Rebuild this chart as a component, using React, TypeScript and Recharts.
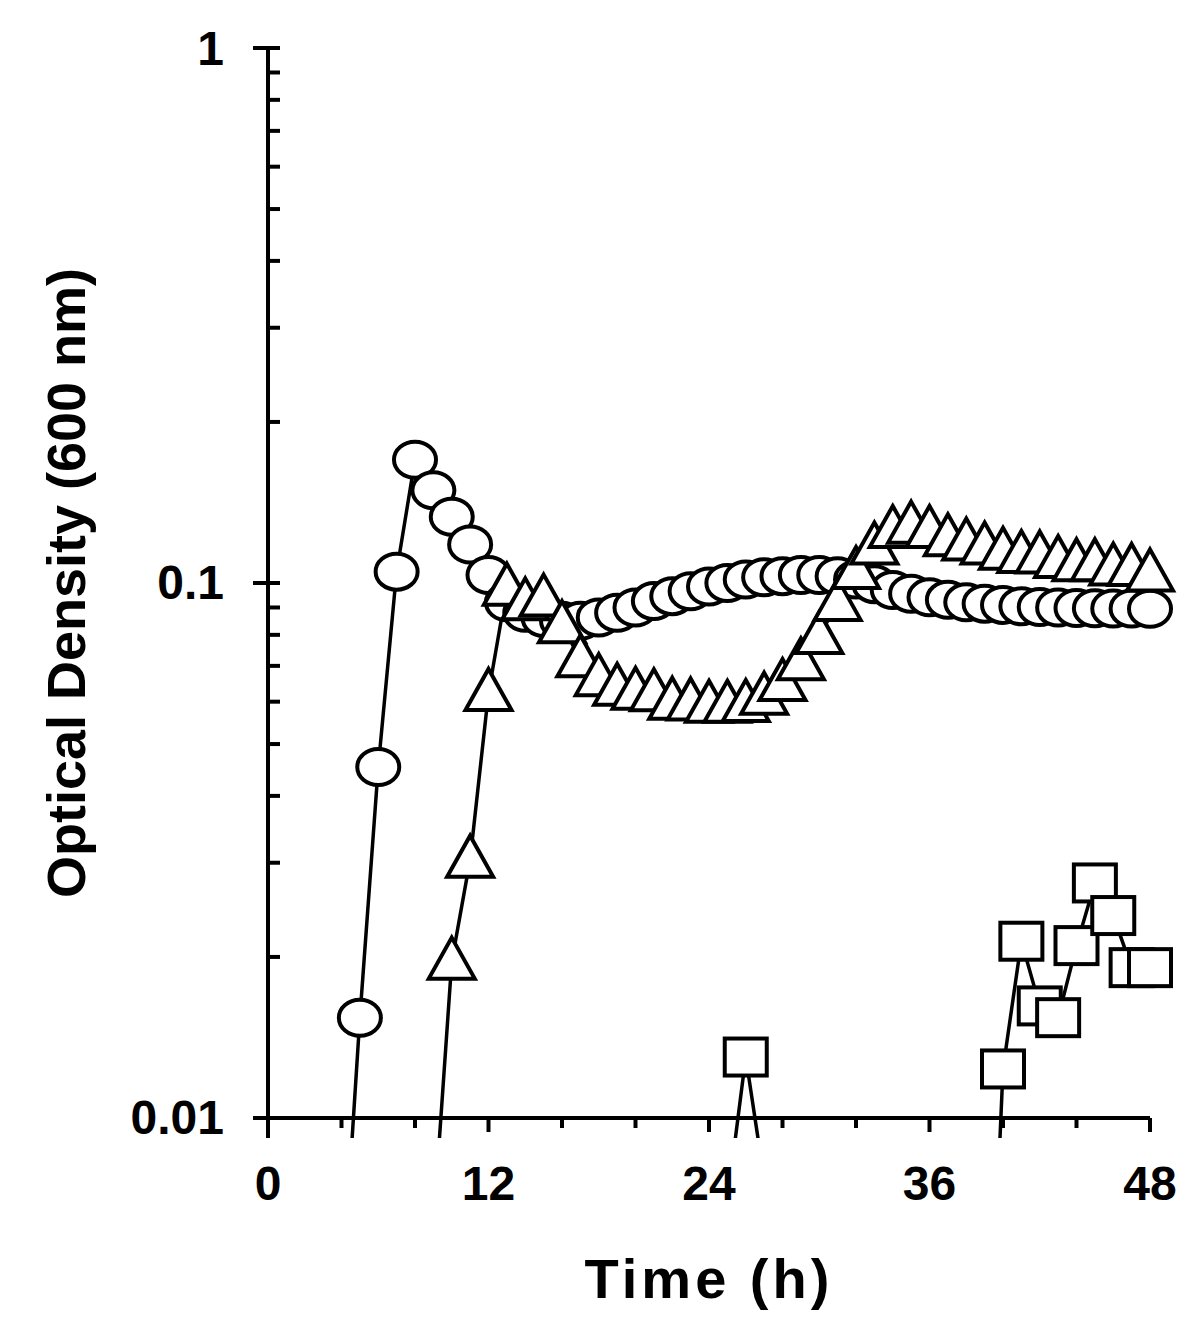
import { LineChart, Line, XAxis, YAxis, ReferenceLine } from 'recharts';

// sampling times (h)
const HOURS = [
  4, 5, 6, 7, 8, 9, 10, 11, 12, 13, 14, 15, 16, 17, 18, 19, 20, 21, 22, 23, 24, 25, 26,
  27, 28, 29, 30, 31, 32, 33, 34, 35, 36, 37, 38, 39, 40, 41, 42, 43, 44, 45, 46, 47, 48,
];

// OD600, open circles
const CIRCLES = [
  0.0045, 0.0154, 0.0453, 0.105, 0.17, 0.149, 0.133, 0.118, 0.1035, 0.092, 0.088, 0.086,
  0.085, 0.085, 0.0862, 0.088, 0.09, 0.0925, 0.0945, 0.0965, 0.0985, 0.1, 0.1015, 0.1025,
  0.103, 0.1035, 0.1035, 0.103, 0.1015, 0.0995, 0.097, 0.0955, 0.094, 0.093, 0.092, 0.0915,
  0.091, 0.0905, 0.0902, 0.09, 0.0898, 0.0897, 0.0896, 0.0896, 0.0895,
];

// OD600, open triangles
const TRIANGLES = [
  null, null, null, null, null, 0.0063, 0.0196, 0.0304, 0.0623, 0.098, 0.092, 0.0935,
  0.0834, 0.072, 0.0664, 0.0637, 0.0626, 0.0622, 0.06, 0.0598, 0.0592, 0.0592, 0.0594,
  0.0613, 0.065, 0.0711, 0.0796, 0.0918, 0.1053, 0.117, 0.1256, 0.128, 0.1256, 0.1212,
  0.119, 0.117, 0.1144, 0.1128, 0.1126, 0.1104, 0.1089, 0.1089, 0.1069, 0.1067, 0.1042,
];

// OD600, open squares (values between 28 h and 38 h are off the scale)
const SQUARES = [
  null, null, null, null, null, null, null, null, null, null, null, null, null, null, null,
  null, null, null, null, null, null, 0.007, 0.013, 0.0077, null, null, null, null, null,
  null, null, null, null, null, null, 0.002, 0.01235, 0.0214, 0.0162, 0.0154, 0.021,
  0.0275, 0.0239, 0.0191, 0.0191,
];

const X_TICKS = [0, 4, 8, 12, 16, 20, 24, 28, 32, 36, 40, 44, 48];
const X_LABELED = [0, 12, 24, 36, 48];
const Y_TICKS = [
  0.01, 0.02, 0.03, 0.04, 0.05, 0.06, 0.07, 0.08, 0.09,
  0.1, 0.2, 0.3, 0.4, 0.5, 0.6, 0.7, 0.8, 0.9, 1,
];
const Y_LABELED = [0.01, 0.1, 1];
const AXIS_FLOOR = 0.01;
const Y_DOMAIN_MIN = 0.009175; // lets the lines run a little past the x axis

const FONT = "'Liberation Sans', Arial, Helvetica, sans-serif";

const visible = (v: number | null) => (v != null && v >= AXIS_FLOOR ? v : null);

const rows = HOURS.map((t, i) => ({
  t,
  c: CIRCLES[i],
  tr: TRIANGLES[i],
  sq: SQUARES[i],
  cM: visible(CIRCLES[i]),
  trM: visible(TRIANGLES[i]),
  sqM: visible(SQUARES[i]),
}));

const CircleDot = (p: any) => {
  if (p.cy == null || p.value == null) return <g key={p.index} />;
  return (
    <ellipse key={p.index} cx={p.cx} cy={p.cy} rx={21} ry={18} fill="#fff" stroke="#000" strokeWidth={4} />
  );
};

const TriangleDot = (p: any) => {
  if (p.cy == null || p.value == null) return <g key={p.index} />;
  const { cx, cy } = p;
  const d = `M${cx},${cy - 24} L${cx + 23},${cy + 17} L${cx - 23},${cy + 17} Z`;
  return <path key={p.index} d={d} fill="#fff" stroke="#000" strokeWidth={4} strokeLinejoin="miter" />;
};

const SquareDot = (p: any) => {
  if (p.cy == null || p.value == null) return <g key={p.index} />;
  return (
    <rect key={p.index} x={p.cx - 21} y={p.cy - 18.5} width={42} height={37} fill="#fff" stroke="#000" strokeWidth={4} />
  );
};

const XTick = ({ x, y, payload }: any) => {
  const v = payload.value;
  const labeled = X_LABELED.includes(v);
  const top = y - 20;
  return (
    <g>
      <line x1={x} x2={x} y1={top} y2={top + (labeled ? 14 : 10)} stroke="#000" strokeWidth={4} />
      {labeled && (
        <text x={x} y={top + 82} textAnchor="middle" fontFamily={FONT} fontWeight="bold" fontSize={48} fill="#000">
          {v}
        </text>
      )}
    </g>
  );
};

const YTick = ({ x, y, payload }: any) => {
  const v = payload.value;
  const labeled = Y_LABELED.includes(v);
  return (
    <g>
      <line x1={labeled ? x - 15 : x} x2={x + 12} y1={y} y2={y} stroke="#000" strokeWidth={4} />
      {labeled && (
        <text x={x - 44} y={y} textAnchor="end" dominantBaseline="central" fontFamily={FONT} fontWeight="bold" fontSize={48} fill="#000">
          {String(v)}
        </text>
      )}
    </g>
  );
};

const XTitle = ({ viewBox }: any) => (
  <text
    x={viewBox.x + viewBox.width / 2}
    y={viewBox.y + 160}
    textAnchor="middle"
    fontFamily={FONT}
    fontWeight="bold"
    fontSize={56}
    letterSpacing={4}
    fill="#000"
  >
    Time (h)
  </text>
);

const YTitle = ({ viewBox }: any) => {
  const cx = viewBox.x + 66;
  const cy = viewBox.y + viewBox.height / 2 - 10;
  return (
    <text
      x={cx}
      y={cy}
      transform={`rotate(-90 ${cx} ${cy})`}
      textAnchor="middle"
      dominantBaseline="central"
      fontFamily={FONT}
      fontWeight="bold"
      fontSize={54}
      fill="#000"
    >
      Optical Density (600 nm)
    </text>
  );
};

export default function App() {
  return (
    <div style={{ width: 1200, height: 1338, background: '#fff' }}>
      <style>{'body{margin:0;background:#fff}'}</style>
      <LineChart width={1200} height={1338} data={rows} margin={{ top: 48, right: 50, bottom: 0, left: 0 }}>
        <XAxis
          dataKey="t"
          type="number"
          domain={[0, 48]}
          ticks={X_TICKS}
          interval={0}
          height={200}
          tickSize={0}
          tickMargin={0}
          axisLine={false}
          tick={<XTick />}
          label={XTitle}
        />
        <YAxis yAxisId="clip" hide type="number" scale="log" domain={[Y_DOMAIN_MIN, 1]} allowDataOverflow />
        <YAxis
          yAxisId="axis"
          type="number"
          scale="log"
          domain={[Y_DOMAIN_MIN, 1]}
          ticks={Y_TICKS}
          interval={0}
          width={268}
          tickSize={0}
          tickMargin={0}
          axisLine={{ stroke: '#000', strokeWidth: 4 }}
          tick={<YTick />}
          label={YTitle}
        />
        <ReferenceLine yAxisId="axis" y={AXIS_FLOOR} stroke="#000" strokeWidth={4} />

        <Line yAxisId="clip" dataKey="c" stroke="#000" strokeWidth={3.5} dot={false} activeDot={false} isAnimationActive={false} />
        <Line yAxisId="axis" dataKey="cM" stroke="none" dot={CircleDot} activeDot={false} isAnimationActive={false} />
        <Line yAxisId="clip" dataKey="tr" stroke="#000" strokeWidth={3.5} dot={false} activeDot={false} isAnimationActive={false} />
        <Line yAxisId="axis" dataKey="trM" stroke="none" dot={TriangleDot} activeDot={false} isAnimationActive={false} />
        <Line yAxisId="clip" dataKey="sq" stroke="#000" strokeWidth={3.5} dot={false} activeDot={false} isAnimationActive={false} />
        <Line yAxisId="axis" dataKey="sqM" stroke="none" dot={SquareDot} activeDot={false} isAnimationActive={false} />
      </LineChart>
    </div>
  );
}
